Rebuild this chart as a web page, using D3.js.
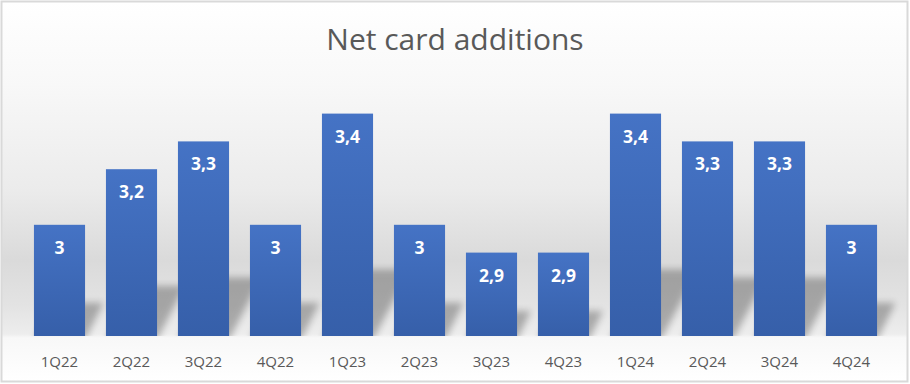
<!DOCTYPE html>
<html>
<head>
<meta charset="utf-8">
<script src="https://cdn.jsdelivr.net/npm/d3@7"></script>
<style>
  html, body { margin: 0; padding: 0; background: #ffffff; }
  svg { display: block; }
</style>
</head>
<body>
<svg id="chart" width="910" height="384"></svg>
<script>
// ---- data ----
const title = "Net card additions";
const categories = ["1Q22","2Q22","3Q22","4Q22","1Q23","2Q23","3Q23","4Q23","1Q24","2Q24","3Q24","4Q24"];
const values = [3, 3.2, 3.3, 3, 3.4, 3, 2.9, 2.9, 3.4, 3.3, 3.3, 3];
const yDomain = [2.6, 3.6];

// ---- layout ----
const W = 910, H = 384;
const plot = { left: 23.5, right: 887.5, top: 58, bottom: 336 };
const textColor = "#595959";
const font = "'Open Sans', 'Liberation Sans', sans-serif";

const svg = d3.select("#chart");
const defs = svg.append("defs");

// background gradient
const bg = defs.append("linearGradient").attr("id", "bgGrad")
  .attr("x1", 0).attr("y1", 0).attr("x2", 0).attr("y2", 1);
[[0, "#ffffff"], [0.22, "#f8f8f8"], [0.5, "#ebebeb"], [0.68, "#dadada"],
 [0.80, "#e3e3e3"], [0.875, "#ededed"], [0.885, "#f8f8f8"], [1, "#ffffff"]]
  .forEach(([o, c]) => bg.append("stop").attr("offset", o).attr("stop-color", c));

// bar gradient
const bgBar = defs.append("linearGradient").attr("id", "barGrad")
  .attr("x1", 0).attr("y1", 0).attr("x2", 0).attr("y2", 1);
bgBar.append("stop").attr("offset", 0).attr("stop-color", "#4573c5");
bgBar.append("stop").attr("offset", 1).attr("stop-color", "#365fa9");

// shadow blur
defs.append("filter").attr("id", "blur")
  .attr("x", "-50%").attr("y", "-50%").attr("width", "200%").attr("height", "200%")
  .append("feGaussianBlur").attr("stdDeviation", 3.5);

defs.append("clipPath").attr("id", "plotClip")
  .append("rect").attr("x", 0).attr("y", 0).attr("width", W).attr("height", plot.bottom);

// chart background + border
svg.append("rect")
  .attr("x", 1.5).attr("y", 1.5).attr("width", W - 4).attr("height", H - 4)
  .attr("fill", "url(#bgGrad)")
  .attr("stroke", "#d9d9d9").attr("stroke-width", 2);

// scales
const x = d3.scaleBand().domain(categories).range([plot.left, plot.right])
  .paddingInner(0.29).paddingOuter(0.145);
const y = d3.scaleLinear().domain(yDomain).range([plot.bottom, plot.top]);

const locale = d3.formatLocale({ decimal: ",", thousands: ".", grouping: [3], currency: ["", ""] });
const fmt = locale.format("~g");

const data = categories.map((c, i) => ({ cat: c, value: values[i] }));

// shadows
svg.append("g").attr("clip-path", "url(#plotClip)")
  .selectAll("polygon").data(data).join("polygon")
  .attr("points", d => {
    const x0 = x(d.cat), x1 = x0 + x.bandwidth();
    const b = y(yDomain[0]);
    const h = b - y(d.value);
    const sh = h * 0.3, dx = sh * 0.55;
    return [[x0, b + 4], [x1, b + 4], [x1 + dx, b - sh], [x0 + dx, b - sh]].map(p => p.join(",")).join(" ");
  })
  .attr("fill", "#000").attr("opacity", 0.27)
  .attr("filter", "url(#blur)");

// bars
svg.append("g").selectAll("rect").data(data).join("rect")
  .attr("x", d => x(d.cat))
  .attr("y", d => y(d.value))
  .attr("width", x.bandwidth())
  .attr("height", d => y(yDomain[0]) - y(d.value))
  .attr("fill", "url(#barGrad)");

// value labels
svg.append("g").selectAll("text").data(data).join("text")
  .attr("x", d => x(d.cat) + x.bandwidth() / 2)
  .attr("y", d => y(d.value) + 29)
  .attr("text-anchor", "middle")
  .attr("fill", "#ffffff")
  .attr("font-family", font)
  .attr("font-weight", "bold")
  .attr("font-size", 17.5)
  .text(d => fmt(d.value));

// x axis
const xAxis = svg.append("g")
  .attr("transform", `translate(0,${plot.bottom})`)
  .call(d3.axisBottom(x).tickSize(0).tickPadding(20));
xAxis.select(".domain").remove();
xAxis.selectAll("text")
  .attr("fill", textColor)
  .attr("font-family", font)
  .attr("font-size", 15);

// title
svg.append("text")
  .attr("x", 455).attr("y", 49.5)
  .attr("text-anchor", "middle")
  .attr("fill", textColor)
  .attr("font-family", font)
  .attr("font-size", 30)
  .text(title);
</script>
</body>
</html>
